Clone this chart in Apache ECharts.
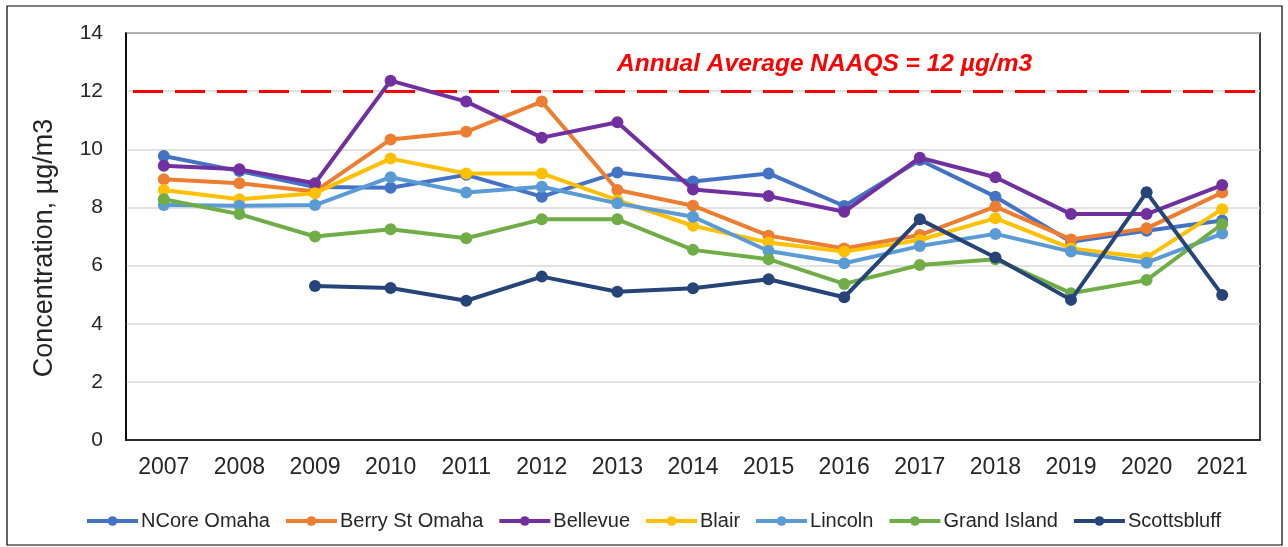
<!DOCTYPE html>
<html>
<head>
<meta charset="utf-8">
<script src="https://cdn.jsdelivr.net/npm/echarts@6/dist/echarts.min.js"></script>
<style>html,body{margin:0;padding:0;background:#fff;}#c{width:1288px;height:547px;}</style>
</head>
<body>
<div id="c"></div>
<script>
const years = ['2007','2008','2009','2010','2011','2012','2013','2014','2015','2016','2017','2018','2019','2020','2021'];
const yTicks = [0,2,4,6,8,10,12,14];
const ncoreOmaha   = [9.77, 9.25, 8.70, 8.68, 9.12, 8.37, 9.20, 8.89, 9.17, 8.05, 9.63, 8.37, 6.82, 7.20, 7.55];
const berryStOmaha = [8.97, 8.83, 8.55, 10.34, 10.60, 11.64, 8.60, 8.06, 7.03, 6.59, 7.05, 8.03, 6.90, 7.28, 8.51];
const bellevue     = [9.43, 9.31, 8.83, 12.36, 11.64, 10.40, 10.93, 8.62, 8.39, 7.85, 9.71, 9.04, 7.77, 7.77, 8.77];
const blair        = [8.60, 8.28, 8.49, 9.68, 9.17, 9.17, 8.25, 7.37, 6.79, 6.48, 6.88, 7.63, 6.59, 6.28, 7.94];
const lincoln      = [8.08, 8.06, 8.08, 9.04, 8.51, 8.71, 8.14, 7.68, 6.50, 6.08, 6.67, 7.09, 6.48, 6.10, 7.10];
const grandIsland  = [8.28, 7.77, 7.00, 7.25, 6.94, 7.59, 7.59, 6.54, 6.22, 5.37, 6.02, 6.22, 5.05, 5.50, 7.43];
const scottsbluff  = [null, null, 5.30, 5.23, 4.79, 5.62, 5.10, 5.22, 5.53, 4.91, 7.59, 6.28, 4.82, 8.52, 4.99];
const naaqs = 12;
const naaqsLabel = 'Annual Average NAAQS = 12 \u00b5g/m3';
const yTitle = 'Concentration, \u00b5g/m3';

const seriesDefs = [
  ['NCore Omaha', ncoreOmaha, '#4472C4'],
  ['Berry St Omaha', berryStOmaha, '#ED7D31'],
  ['Bellevue', bellevue, '#7030A0'],
  ['Blair', blair, '#FFC000'],
  ['Lincoln', lincoln, '#5B9BD5'],
  ['Grand Island', grandIsland, '#70AD47'],
  ['Scottsbluff', scottsbluff, '#264478']
];
const FONT = "'Liberation Sans', Arial, sans-serif";

const series = seriesDefs.map(function(d, i){
  return {
    name: d[0], type: 'line', data: d[1],
    symbol: 'circle', symbolSize: 12,
    itemStyle: {color: d[2]},
    lineStyle: {color: d[2], width: 4},
    connectNulls: false,
    animation: false,
    z: 3 + i
  };
});
series[0].markLine = {
  silent: true, symbol: 'none', animation: false,
  label: {show: false},
  lineStyle: {color: '#FF0000', width: 3, type: [30, 12], dashOffset: 35},
  data: [{yAxis: naaqs}]
};

const chart = echarts.init(document.getElementById('c'), null, {renderer: 'canvas'});
chart.setOption({
  backgroundColor: '#fff',
  animation: false,
  grid: {left: 126, right: 28, top: 33, bottom: 107, show: true, borderColor: '#000', borderWidth: 1.5, backgroundColor: 'transparent'},
  xAxis: {
    type: 'category', data: years, boundaryGap: true,
    axisLine: {show: true, lineStyle: {color: '#000', width: 1.5}},
    axisTick: {show: false},
    axisLabel: {color: '#262626', fontSize: 23, fontFamily: FONT, margin: 16}
  },
  yAxis: {
    type: 'value', min: yTicks[0], max: yTicks[yTicks.length-1], interval: 2,
    axisLine: {show: true, lineStyle: {color: '#000', width: 1.5}},
    axisTick: {show: false},
    splitLine: {lineStyle: {color: '#D9D9D9', width: 1.5}},
    axisLabel: {color: '#262626', fontSize: 21, fontFamily: FONT, margin: 23}
  },
  legend: {
    data: seriesDefs.map(function(d){return d[0];}),
    left: 85, top: 511, padding: 0,
    itemWidth: 51, itemHeight: 12, itemGap: 14,
    lineStyle: {width: 4},
    textStyle: {color: '#262626', fontSize: 20, fontFamily: FONT, padding: [0,0,0,-2]}
  },
  graphic: [
    {type: 'rect', silent: true, z: -1, shape: {x: 7, y: 6, width: 1275, height: 539},
     style: {fill: 'none', stroke: '#000', lineWidth: 1.2}},
    {type: 'text', silent: true, x: 45, y: 248, rotation: Math.PI / 2,
     style: {text: yTitle, fill: '#262626', font: "27px 'Liberation Sans', Arial, sans-serif", textAlign: 'center', textVerticalAlign: 'middle'}},
    {type: 'text', silent: true, left: 617, top: 52,
     style: {text: naaqsLabel, fill: '#FF0000', font: "italic bold 24.5px 'Liberation Sans', Arial, sans-serif"}}
  ],
  series: series
});
</script>
</body>
</html>
